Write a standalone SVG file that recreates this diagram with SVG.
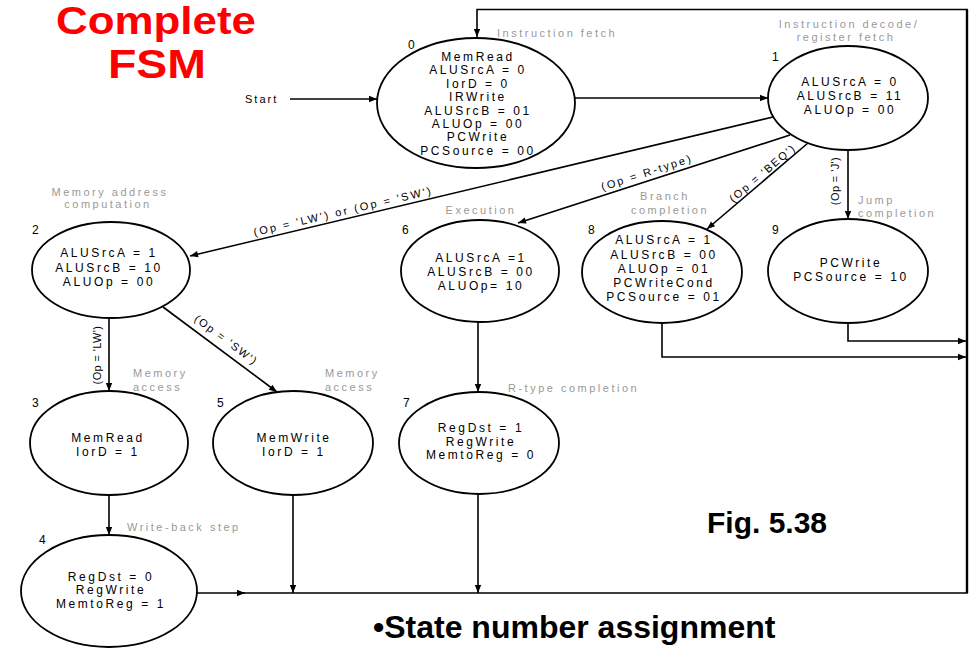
<svg xmlns="http://www.w3.org/2000/svg" width="975" height="648" viewBox="0 0 975 648">
<defs>
<marker id="ah" viewBox="0 0 10 10" refX="10" refY="5" markerWidth="9" markerHeight="8" markerUnits="userSpaceOnUse" orient="auto"><path d="M0,1 L10,5 L0,9 z" fill="#000"/></marker>
<style>
.st{fill:#fff;stroke:#000;stroke-width:1.8}
.t{font-family:"Liberation Sans",Arial,sans-serif;font-size:12px;letter-spacing:2.6px;text-anchor:middle;fill:#000}
.n{font-family:"Liberation Sans",Arial,sans-serif;font-size:12px;fill:#000}
.g{font-family:"Liberation Sans",Arial,sans-serif;font-size:11px;letter-spacing:2.5px;fill:#999}
.gm{text-anchor:middle}
.e{font-family:"Liberation Sans",Arial,sans-serif;font-size:11px;letter-spacing:2.2px;text-anchor:middle;fill:#000}
.ev{font-family:"Liberation Sans",Arial,sans-serif;font-size:11px;letter-spacing:0.4px;text-anchor:middle;fill:#000}
.c{fill:none;stroke:#000;stroke-width:1.6}
</style>
</defs>
<rect width="975" height="648" fill="#fff"/>
<g id="title" font-family="'Comic Sans MS','Liberation Sans',Arial,sans-serif" font-weight="bold" fill="#f00">
<text x="56" y="34" font-size="38" textLength="200" lengthAdjust="spacingAndGlyphs">Complete</text>
<text x="108" y="78" font-size="41" textLength="98" lengthAdjust="spacingAndGlyphs">FSM</text>
</g>
<g id="connectors">
<text x="245" y="103" class="g" style="fill:#000;letter-spacing:2px">Start</text>
<path class="c" d="M290 99 H377" marker-end="url(#ah)"/>
<path class="c" d="M575 98 H768" marker-end="url(#ah)"/>
<path class="c" d="M773 117 L190 256" marker-end="url(#ah)"/>
<path class="c" d="M790 135 L518 223" marker-end="url(#ah)"/>
<path class="c" d="M808 143 L707 229" marker-end="url(#ah)"/>
<path class="c" d="M848 150 V219" marker-end="url(#ah)"/>
<path class="c" d="M109 318 V391" marker-end="url(#ah)"/>
<path class="c" d="M163 307 L277 392" marker-end="url(#ah)"/>
<path class="c" d="M478 322 V392" marker-end="url(#ah)"/>
<path class="c" d="M109 495 V535" marker-end="url(#ah)"/>
<path class="c" d="M293 495 V593" marker-end="url(#ah)"/>
<path class="c" d="M478 494 V593" marker-end="url(#ah)"/>
<path class="c" d="M197 593 H245" marker-end="url(#ah)"/>
<path class="c" d="M662 323 V357 H966" marker-end="url(#ah)"/>
<path class="c" d="M848 323 V341 H966" marker-end="url(#ah)"/>
<path class="c" d="M240 593 H967 V9.5 H477 V37" marker-end="url(#ah)"/>
<path d="M967 9.5 V593" fill="none" stroke="#000" stroke-width="2.4"/>
<text class="e" transform="translate(344,215) rotate(-13.3)">(Op = 'LW') or (Op = 'SW')</text>
<text class="e" transform="translate(648,176) rotate(-17.9)">(Op = R-type)</text>
<text class="e" style="letter-spacing:1.8px" transform="translate(765,176) rotate(-40.4)">(Op = 'BEQ')</text>
<text class="ev" transform="translate(839,181) rotate(-90)">(Op = 'J')</text>
<text class="ev" transform="translate(101,355) rotate(-90)">(Op = 'LW')</text>
<text class="e" style="letter-spacing:1.8px" transform="translate(224,343) rotate(36.7)">(Op = 'SW')</text>
</g>
<g id="state0">
<ellipse class="st" cx="476" cy="103" rx="99" ry="65"/>
<text class="n" x="408" y="49">0</text>
<text class="g" x="497" y="37">Instruction fetch</text>
<text class="t" x="478" y="61">MemRead</text>
<text class="t" x="478" y="74.4">ALUSrcA = 0</text>
<text class="t" x="478" y="87.8">IorD = 0</text>
<text class="t" x="478" y="101.2">IRWrite</text>
<text class="t" x="478" y="114.6">ALUSrcB = 01</text>
<text class="t" x="478" y="128">ALUOp = 00</text>
<text class="t" x="478" y="141.4">PCWrite</text>
<text class="t" x="478" y="154.8">PCSource = 00</text>
</g>
<g id="state1">
<ellipse class="st" cx="848" cy="98" rx="80" ry="52"/>
<text class="n" x="772" y="61">1</text>
<text class="g gm" x="849" y="28">Instruction decode/</text>
<text class="g gm" x="846" y="41">register fetch</text>
<text class="t" x="850" y="86">ALUSrcA = 0</text>
<text class="t" x="850" y="100">ALUSrcB = 11</text>
<text class="t" x="850" y="114">ALUOp = 00</text>
</g>
<g id="state2">
<ellipse class="st" cx="111" cy="270" rx="79" ry="48"/>
<text class="n" x="32" y="234">2</text>
<text class="g gm" x="110" y="196">Memory address</text>
<text class="g gm" x="108" y="208">computation</text>
<text class="t" x="109" y="257">ALUSrcA = 1</text>
<text class="t" x="109" y="272">ALUSrcB = 10</text>
<text class="t" x="109" y="286">ALUOp = 00</text>
</g>
<g id="state6">
<ellipse class="st" cx="480" cy="271" rx="79" ry="51"/>
<text class="n" x="402" y="234">6</text>
<text class="g gm" x="481" y="214">Execution</text>
<text class="t" x="481" y="262">ALUSrcA =1</text>
<text class="t" x="481" y="276">ALUSrcB = 00</text>
<text class="t" x="481" y="290">ALUOp= 10</text>
</g>
<g id="state8">
<ellipse class="st" cx="662" cy="272" rx="80" ry="51"/>
<text class="n" x="588" y="234">8</text>
<text class="g gm" x="665" y="200">Branch</text>
<text class="g gm" x="670" y="214">completion</text>
<text class="t" x="664" y="244">ALUSrcA = 1</text>
<text class="t" x="664" y="258.5">ALUSrcB = 00</text>
<text class="t" x="664" y="272.5">ALUOp = 01</text>
<text class="t" x="664" y="286.5">PCWriteCond</text>
<text class="t" x="664" y="301">PCSource = 01</text>
</g>
<g id="state9">
<ellipse class="st" cx="848" cy="271" rx="80" ry="52"/>
<text class="n" x="772" y="234">9</text>
<text class="g" x="858" y="204">Jump</text>
<text class="g" x="858" y="217">completion</text>
<text class="t" x="851" y="267">PCWrite</text>
<text class="t" x="851" y="281">PCSource = 10</text>
</g>
<g id="state3">
<ellipse class="st" cx="109" cy="443" rx="79" ry="52"/>
<text class="n" x="32" y="407">3</text>
<text class="g" x="133" y="377">Memory</text>
<text class="g" x="133" y="391">access</text>
<text class="t" x="108" y="442">MemRead</text>
<text class="t" x="108" y="456">IorD = 1</text>
</g>
<g id="state5">
<ellipse class="st" cx="293" cy="443" rx="80" ry="52"/>
<text class="n" x="217" y="407">5</text>
<text class="g" x="325" y="377">Memory</text>
<text class="g" x="325" y="391">access</text>
<text class="t" x="294" y="442">MemWrite</text>
<text class="t" x="294" y="456">IorD = 1</text>
</g>
<g id="state7">
<ellipse class="st" cx="479" cy="443" rx="80" ry="51"/>
<text class="n" x="403" y="407">7</text>
<text class="g" x="508" y="392">R-type completion</text>
<text class="t" x="481" y="432">RegDst = 1</text>
<text class="t" x="481" y="446">RegWrite</text>
<text class="t" x="481" y="459">MemtoReg = 0</text>
</g>
<g id="state4">
<ellipse class="st" cx="109" cy="591" rx="88" ry="56"/>
<text class="n" x="39" y="544">4</text>
<text class="g" x="127" y="531">Write-back step</text>
<text class="t" x="111" y="581">RegDst = 0</text>
<text class="t" x="111" y="594">RegWrite</text>
<text class="t" x="111" y="608">MemtoReg = 1</text>
</g>
<g id="captions" font-family="'Liberation Sans',Arial,sans-serif" font-weight="bold" fill="#000">
<text x="707" y="533" font-size="30">Fig. 5.38</text>
<text x="373" y="638" font-size="32">•State number assignment</text>
</g>
</svg>
